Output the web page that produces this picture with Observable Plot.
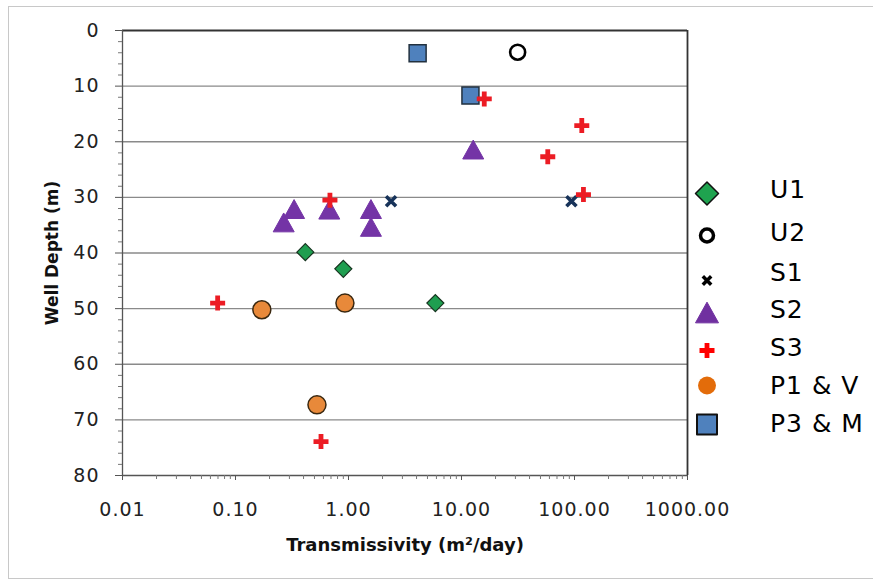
<!DOCTYPE html>
<html><head><meta charset="utf-8">
<script src="https://cdn.jsdelivr.net/npm/d3@7"></script>
<script src="https://cdn.jsdelivr.net/npm/@observablehq/plot@0.6"></script>
<style>
body{margin:0;background:#fff;}
#wrap{position:relative;width:873px;height:583px;overflow:hidden;font-family:"DejaVu Sans",sans-serif;background:#fff;}
#border{position:absolute;left:8px;top:6px;width:900px;height:571px;border:1.5px solid #c8c8c8;pointer-events:none;}
#legend{position:absolute;left:690px;top:170px;}
.row{position:relative;height:39px;width:180px;}
.row svg{position:absolute;left:0;top:0;}
.row span{position:absolute;left:80px;top:0;font-size:25px;letter-spacing:1px;line-height:39px;color:#000;white-space:nowrap;}
g[aria-label="x-axis tick label"] text, g[aria-label="y-axis tick label"] text{letter-spacing:1px;}
</style></head>
<body><div id="wrap"><div id="chart"></div><div id="legend"></div><div id="border"></div></div>
<script>
// ---- data ----
const seriesNames = ["U1", "U2", "S1", "S2", "S3", "P1 & V", "P3 & M"];
const u1T = [0.415, 0.90, 5.87];          const u1D = [39.85, 42.85, 49.0];
const u2T = [31.4];                        const u2D = [3.9];
const s1T = [2.38, 94];                    const s1D = [30.7, 30.7];
const s2T = [0.33, 0.267, 0.676, 1.58, 1.58, 12.7]; const s2D = [32.1, 34.5, 32.2, 32.1, 35.3, 21.4];
const s3T = [15.9, 116, 58, 120, 0.685, 0.0695, 0.571]; const s3D = [12.3, 17.1, 22.7, 29.5, 30.5, 49.0, 73.9];
const p1T = [0.171, 0.93, 0.526];          const p1D = [50.2, 49.0, 67.3];
const p3T = [4.09, 12.0];                  const p3D = [4.1, 11.7];
const xTicks = [0.01, 0.1, 1, 10, 100, 1000];
const xTickLabels = ["0.01", "0.10", "1.00", "10.00", "100.00", "1000.00"];
const yTicks = [0, 10, 20, 30, 40, 50, 60, 70, 80];
const xTitle = "Transmissivity (m²/day)";
const yTitle = "Well Depth (m)";

// derived
const xMinor = xTicks.slice(0, -1).flatMap(d => d3.range(2, 10).map(k => k * d));
const yMinor = d3.range(0, 81, 2).filter(v => v % 10 !== 0);
const grid = yTicks.filter(v => v > 0 && v < 80);
const pts = (T, D) => T.map((t, i) => ({t, d: D[i]}));

// symbols (r = Plot radius)
function sym(f) { return {draw(c, size) { f(c, Math.sqrt(size / Math.PI)); }}; }
const diamond = sym((c, r) => { c.moveTo(0, -r); c.lineTo(r, 0); c.lineTo(0, r); c.lineTo(-r, 0); c.closePath(); });
const triangle = sym((c, r) => { c.moveTo(0, -0.9 * r); c.lineTo(r, 0.9 * r); c.lineTo(-r, 0.9 * r); c.closePath(); });
const plus = sym((c, r) => { const t = r * 0.32;
  c.moveTo(-t, -r); c.lineTo(t, -r); c.lineTo(t, -t); c.lineTo(r, -t); c.lineTo(r, t); c.lineTo(t, t);
  c.lineTo(t, r); c.lineTo(-t, r); c.lineTo(-t, t); c.lineTo(-r, t); c.lineTo(-r, -t); c.lineTo(-t, -t); c.closePath(); });
const times = sym((c, r) => { c.moveTo(-r, -r); c.lineTo(r, r); c.moveTo(r, -r); c.lineTo(-r, r); });
const square = sym((c, r) => { c.rect(-r, -r, 2 * r, 2 * r); });
const ring = sym((c, r) => { c.moveTo(r, 0); c.arc(0, 0, r, 0, 2 * Math.PI); });

const chart = Plot.plot({
  width: 873, height: 583,
  marginLeft: 122, marginRight: 186, marginTop: 30, marginBottom: 108,
  style: {fontFamily: "'DejaVu Sans', sans-serif", fontSize: "19px", color: "#222", background: "transparent"},
  x: {type: "log", domain: [0.01, 1000]},
  y: {domain: [0, 80], reverse: true},
  marks: [
    Plot.ruleY(grid, {stroke: "#8a8a8a", strokeWidth: 1.3}),
    Plot.ruleY([0], {stroke: "#333", strokeWidth: 1.8}),
    Plot.ruleX([1000], {stroke: "#333", strokeWidth: 1.8}),
    Plot.ruleX([0.01], {stroke: "#555", strokeWidth: 1.3}),
    Plot.ruleY([80], {stroke: "#555", strokeWidth: 1.3}),
    Plot.axisY(yMinor, {tickSize: 4, fill: "none", label: null, stroke: "#777"}),
    Plot.axisY(yTicks, {tickSize: 7, tickPadding: 16, label: null, fontSize: 19, stroke: "#555", fill: "#222", tickFormat: d => String(d)}),
    Plot.axisX(xMinor, {tickSize: 4, fill: "none", label: null, stroke: "#777"}),
    Plot.axisX(xTicks, {tickSize: 5, tickPadding: 22, label: null, fontSize: 19, stroke: "#555", fill: "#222", tickFormat: d => xTickLabels[xTicks.indexOf(d)]}),
    Plot.text([xTitle], {frameAnchor: "bottom", dy: 70, lineAnchor: "middle", textAnchor: "middle", fontWeight: "bold", fontSize: 18, fill: "#111"}),
    Plot.text([yTitle], {frameAnchor: "left", dx: -70, rotate: -90, lineAnchor: "middle", textAnchor: "middle", fontWeight: "bold", fontSize: 17, fill: "#111"}),
    Plot.dot(pts(u1T, u1D), {x: "t", y: "d", symbol: diamond, r: 8.5, fill: "#1f9e50", stroke: "#16331f", strokeWidth: 1.2}),
    Plot.dot(pts(u2T, u2D), {x: "t", y: "d", symbol: ring, r: 7.5, fill: "none", stroke: "#000", strokeWidth: 2.6}),
    Plot.dot(pts(s1T, s1D), {x: "t", y: "d", symbol: times, r: 5, fill: "none", stroke: "#17335a", strokeWidth: 3.6}),
    Plot.dot(pts(s2T, s2D), {x: "t", y: "d", symbol: triangle, r: 10.5, fill: "#7434a6", stroke: "#7434a6", strokeWidth: 1, strokeLinejoin: "round"}),
    Plot.dot(pts(p1T, p1D), {x: "t", y: "d", symbol: "circle", r: 9, fill: "#e8893a", stroke: "#3a2810", strokeWidth: 1.5}),
    Plot.dot(pts(p3T, p3D), {x: "t", y: "d", symbol: square, r: 8.5, fill: "#4f81bd", stroke: "#22313f", strokeWidth: 1.5}),
    Plot.dot(pts(s3T, s3D), {x: "t", y: "d", symbol: plus, r: 7.5, fill: "#ec1c24", stroke: "none"})
  ]
});
document.getElementById("chart").appendChild(chart);

// legend
const legendSyms = [
  {s: diamond, r: 11.5, fill: "#1fa34f", stroke: "#111", sw: 1.5, dy: 4},
  {s: ring, r: 6.5, fill: "none", stroke: "#000", sw: 3.5, dy: 3},
  {s: times, r: 4.2, fill: "none", stroke: "#000", sw: 3.5, dy: 8},
  {s: triangle, r: 11.5, fill: "#7030a0", stroke: "#7030a0", sw: 1, dy: 3},
  {s: plus, r: 7.5, fill: "#ff0000", stroke: "none", sw: 0, dy: 3},
  {s: ring, r: 9, fill: "#e36c0a", stroke: "none", sw: 0, dy: 0},
  {s: square, r: 10, fill: "#4f81bd", stroke: "#111", sw: 2, dy: 1}
];
const rowShift = [0, 4, 5, 3, 2, 1, 0];
const leg = d3.select("#legend");
seriesNames.forEach((name, i) => {
  const L = legendSyms[i];
  const row = leg.append("div").attr("class", "row").style("top", rowShift[i] + "px");
  const svg = row.append("svg").attr("width", 34).attr("height", 50).style("overflow", "visible");
  const p = d3.path(); L.s.draw(p, Math.PI * L.r * L.r);
  svg.append("path").attr("transform", `translate(17,${19.5 + L.dy})`).attr("d", p.toString())
    .attr("fill", L.fill).attr("stroke", L.stroke).attr("stroke-width", L.sw).attr("stroke-linejoin", "round");
  row.append("span").text(name);
});
</script></body></html>
